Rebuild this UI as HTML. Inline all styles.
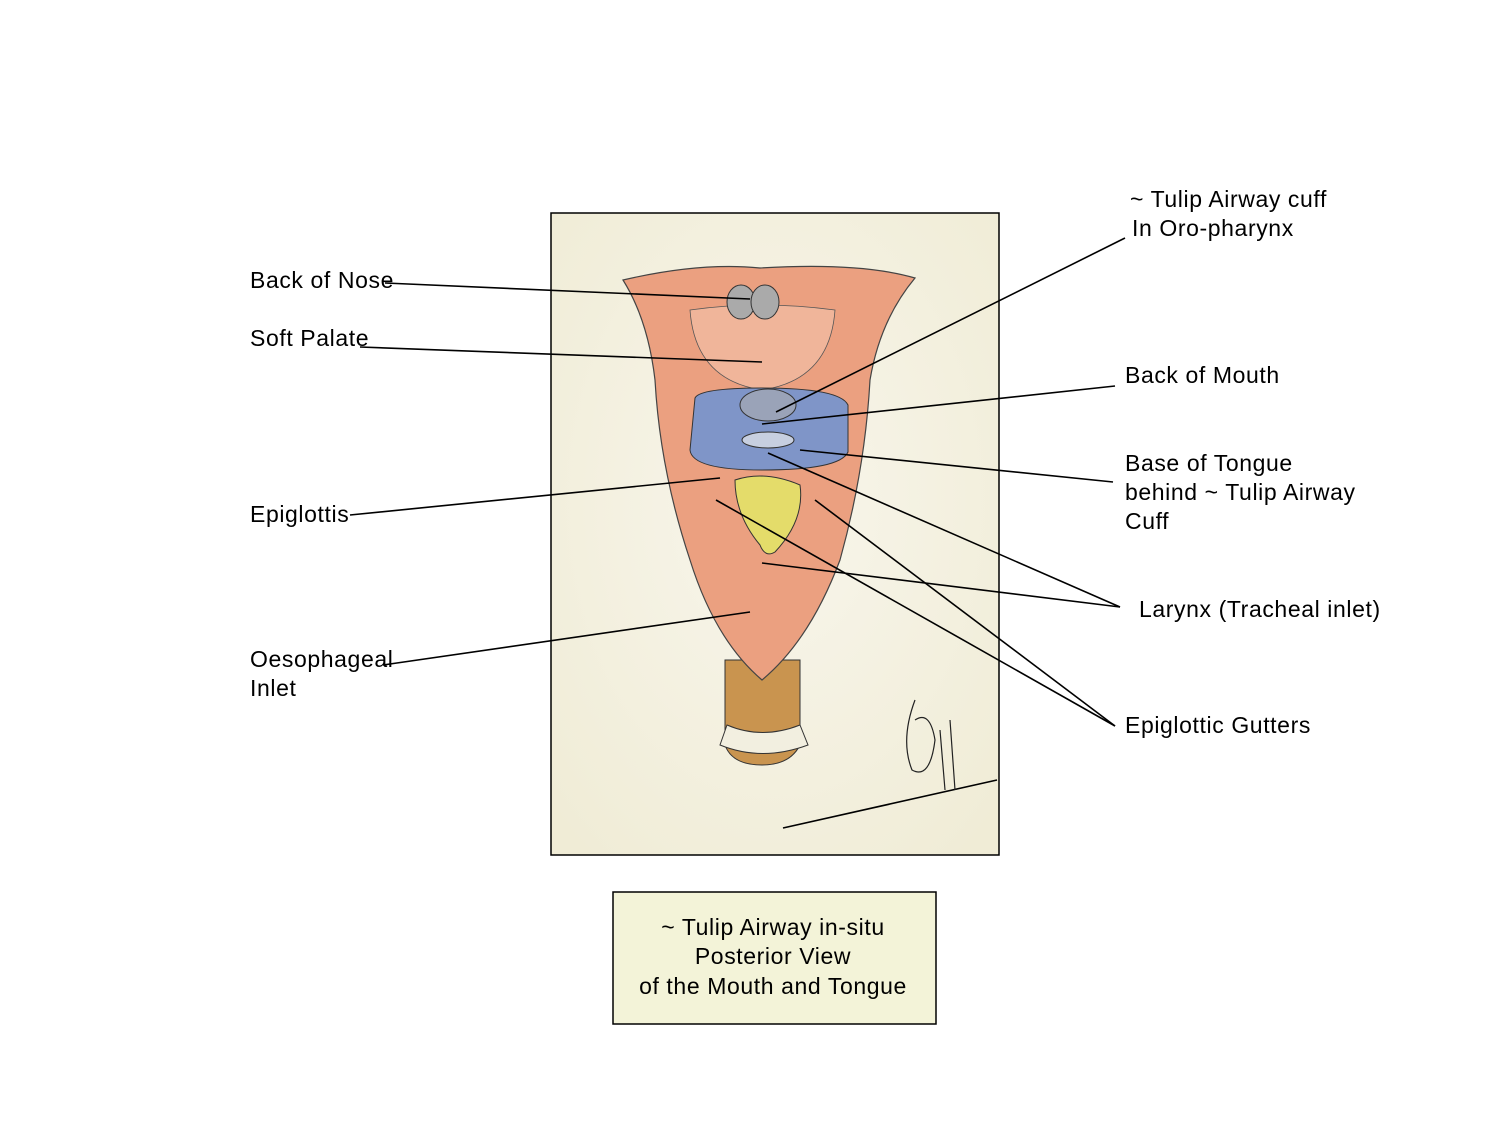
<!DOCTYPE html>
<html><head><meta charset="utf-8">
<style>
html,body{margin:0;padding:0;background:#fff;}
body{width:1500px;height:1125px;position:relative;overflow:hidden;font-family:"Liberation Sans",Arial,sans-serif;}
</style></head>
<body>
<svg width="1500" height="1125" viewBox="0 0 1500 1125" xmlns="http://www.w3.org/2000/svg" style="position:absolute;left:0;top:0">
<defs>
<radialGradient id="bg" cx="0.5" cy="0.45" r="0.7">
<stop offset="0" stop-color="#f8f6ec"/><stop offset="1" stop-color="#f0ecd6"/>
</radialGradient>
</defs>
<rect x="551" y="213" width="448" height="642" fill="url(#bg)" stroke="#000" stroke-width="1.5"/>
<!-- trachea -->
<path d="M725 660 L800 660 L800 745 Q790 765 762 765 Q732 765 725 745 Z" fill="#c9944f" stroke="#333" stroke-width="1"/>
<path d="M727 725 Q762 740 800 725 L808 745 Q762 762 720 745 Z" fill="#f2efe0" stroke="#333" stroke-width="1"/>
<!-- main pink body -->
<path d="M623 280 Q700 262 760 268 Q860 262 915 278 Q880 320 870 380 Q865 470 840 560 Q810 640 762 680 Q715 640 690 560 Q660 470 655 380 Q648 320 623 280 Z" fill="#eba080" stroke="#444" stroke-width="1.2"/>
<path d="M690 310 Q760 300 835 310 Q830 380 762 390 Q695 380 690 310 Z" fill="#f0b59a" stroke="#555" stroke-width="0.8"/>
<!-- nose -->
<ellipse cx="741" cy="302" rx="14" ry="17" fill="#aaa" stroke="#333"/>
<ellipse cx="765" cy="302" rx="14" ry="17" fill="#aaa" stroke="#333"/>
<!-- blue cuff -->
<path d="M695 398 Q700 388 762 388 Q840 388 848 405 L848 452 Q840 470 762 470 Q692 470 690 450 Z" fill="#7f95c8" stroke="#333" stroke-width="1"/>
<ellipse cx="768" cy="405" rx="28" ry="16" fill="#9aa3b8" stroke="#333"/>
<ellipse cx="768" cy="440" rx="26" ry="8" fill="#c7cfe0" stroke="#333"/>
<!-- epiglottis yellow -->
<path d="M735 480 Q765 470 800 485 Q805 520 775 552 Q765 558 760 545 Q735 515 735 480 Z" fill="#e4dc6a" stroke="#333"/>
<!-- leader lines -->
<g stroke="#000" stroke-width="1.6" fill="none">
<line x1="385" y1="283" x2="750" y2="299"/>
<line x1="360" y1="347" x2="762" y2="362"/>
<line x1="1125" y1="238" x2="776" y2="412"/>
<line x1="1115" y1="386" x2="762" y2="424"/>
<line x1="1113" y1="482" x2="800" y2="450"/>
<line x1="350" y1="515" x2="720" y2="478"/>
<line x1="1120" y1="607" x2="768" y2="453"/>
<line x1="1120" y1="607" x2="762" y2="563"/>
<line x1="383" y1="665" x2="750" y2="612"/>
<line x1="1115" y1="726" x2="716" y2="500"/>
<line x1="1115" y1="726" x2="815" y2="500"/>
<line x1="783" y1="828" x2="997" y2="780"/>
</g>
<!-- signature -->
<path d="M915 700 Q900 740 912 770 Q930 780 935 740 Q930 710 915 720 M940 730 L945 790 M950 720 L955 790" stroke="#222" fill="none" stroke-width="1.2"/>
<!-- caption -->
<rect x="613" y="892" width="323" height="132" fill="#f3f3d8" stroke="#000" stroke-width="1.5"/>
<g font-family="Liberation Sans, Arial, sans-serif" font-size="23" letter-spacing="0.6" fill="#000">
<text x="250" y="288">Back of Nose</text>
<text x="250" y="346">Soft Palate</text>
<text x="250" y="522">Epiglottis</text>
<text x="250" y="667">Oesophageal</text>
<text x="250" y="696">Inlet</text>
<text x="1130" y="207">~ Tulip Airway cuff</text>
<text x="1132" y="236">In Oro-pharynx</text>
<text x="1125" y="383">Back of Mouth</text>
<text x="1125" y="471">Base of Tongue</text>
<text x="1125" y="500">behind ~ Tulip Airway</text>
<text x="1125" y="529">Cuff</text>
<text x="1139" y="617">Larynx (Tracheal inlet)</text>
<text x="1125" y="733">Epiglottic Gutters</text>
<text x="773" y="935" text-anchor="middle">~ Tulip Airway in-situ</text>
<text x="773" y="964" text-anchor="middle">Posterior View</text>
<text x="773" y="994" text-anchor="middle">of the Mouth and Tongue</text>
</g>
</svg>
</body></html>
